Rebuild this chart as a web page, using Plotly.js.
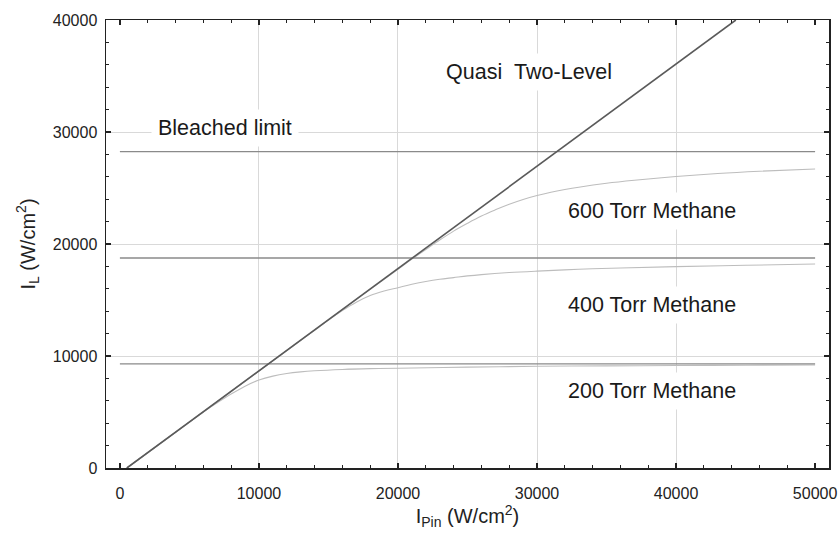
<!DOCTYPE html>
<html>
<head>
<meta charset="utf-8">
<script src="https://cdn.plot.ly/plotly-3.0.1.min.js"></script>
<style>html,body{margin:0;padding:0;background:#fff}#chart{width:839px;height:538px}</style>
</head>
<body>
<div id="chart"></div>
<script>
// Quasi two-level (unsaturated) line
const quasiX = [500, 44300];
const quasiY = [0, 40000];

// Bleached limits for each pressure
const bleachX = [0, 50000];
const bleach600 = 28250;
const bleach400 = 18750;
const bleach200 = 9300;

// 200 Torr methane curve
const t200X = [500, 3000, 5000, 6000, 7000, 8000, 9000, 10000, 11000, 12000, 13000, 14000, 16000, 18000, 20000, 25000, 30000, 35000, 40000, 45000, 50000];
const t200Y = [0, 2280, 4100, 5000, 5820, 6600, 7300, 7850, 8200, 8430, 8580, 8680, 8800, 8870, 8910, 9010, 9080, 9120, 9150, 9180, 9200];

// 400 Torr methane curve
const t400X = [500, 5000, 10000, 13000, 14000, 15000, 16000, 17000, 18000, 19000, 20000, 21000, 22000, 23000, 24000, 25000, 26000, 28000, 30000, 33000, 36000, 40000, 45000, 50000];
const t400Y = [0, 4100, 8660, 11400, 12300, 13200, 14050, 14800, 15400, 15800, 16100, 16400, 16650, 16850, 17000, 17150, 17270, 17450, 17580, 17740, 17860, 17980, 18100, 18210];

// 600 Torr methane curve
const t600X = [500, 5000, 10000, 15000, 18000, 20000, 21000, 22000, 23000, 24000, 25000, 26000, 27000, 28000, 29000, 30000, 31000, 32000, 33000, 35000, 37000, 40000, 43000, 46000, 50000];
const t600Y = [0, 4100, 8660, 13230, 15950, 17750, 18650, 19500, 20350, 21150, 21850, 22500, 23050, 23550, 23980, 24330, 24620, 24860, 25070, 25420, 25690, 26030, 26300, 26500, 26700];

// Axis ticks and grid
const xTicks = [0, 10000, 20000, 30000, 40000, 50000];
const xTickText = ['0', '10000', '20000', '30000', '40000', '50000'];
const yTicks = [0, 10000, 20000, 30000, 40000];
const yTickText = ['0', '10000', '20000', '30000', '40000'];
const gridX = [10000, 20000, 30000, 40000];
const gridY = [10000, 20000, 30000];

// Labels
const labelText = ['Quasi&nbsp;&nbsp;Two-Level', 'Bleached limit', '600 Torr Methane', '400 Torr Methane', '200 Torr Methane'];
const labelX = [29400, 7550, 38300, 38300, 38300];
const labelY = [35400, 30350, 22950, 14550, 6850];

const FONT = 'Liberation Sans, Arial, Helvetica, sans-serif';
const curveStyle = {color: '#bdbdbd', width: 1.1, shape: 'spline', smoothing: 1};
const limitStyle = {color: '#8a8a8a', width: 1.3};

const traces = [
  {x: gridX, y: gridX.map(() => null), xaxis: 'x2', yaxis: 'y2', mode: 'lines', hoverinfo: 'skip', showlegend: false},
  {x: t600X, y: t600Y, mode: 'lines', line: curveStyle, name: '600 Torr'},
  {x: t400X, y: t400Y, mode: 'lines', line: curveStyle, name: '400 Torr'},
  {x: t200X, y: t200Y, mode: 'lines', line: curveStyle, name: '200 Torr'},
  {x: bleachX, y: bleachX.map(() => bleach600), mode: 'lines', line: limitStyle, name: 'Bleached 600'},
  {x: bleachX, y: bleachX.map(() => bleach400), mode: 'lines', line: limitStyle, name: 'Bleached 400'},
  {x: bleachX, y: bleachX.map(() => bleach200), mode: 'lines', line: limitStyle, name: 'Bleached 200'},
  {x: quasiX, y: quasiY, mode: 'lines', line: {color: '#5a5a5a', width: 1.6}, name: 'Quasi Two-Level'}
];

const axisCommon = {
  showline: true, linecolor: '#222', linewidth: 1.5, mirror: 'allticks',
  ticks: 'inside', ticklen: 5, tickwidth: 1.2, tickcolor: '#222',
  showgrid: false, zeroline: false,
  tickfont: {family: FONT, size: 16, color: '#222'}
};

const layout = {
  width: 839, height: 538,
  margin: {l: 106, r: 10, t: 20, b: 70},
  paper_bgcolor: '#fff', plot_bgcolor: '#fff',
  showlegend: false,
  font: {family: FONT, color: '#222'},
  xaxis: Object.assign({}, axisCommon, {
    range: [-1000, 51000], tickmode: 'array', tickvals: xTicks, ticktext: xTickText,
    ticklabelstandoff: 10,
    minor: {dtick: 2000, tick0: 0, ticks: 'inside', ticklen: 3, tickwidth: 1.1, tickcolor: '#222'},
    title: {text: 'I<sub>Pin</sub> (W/cm<sup>2</sup>)', font: {family: FONT, size: 20, color: '#222'}, standoff: 8}
  }),
  yaxis: Object.assign({}, axisCommon, {
    range: [0, 40000], tickmode: 'array', tickvals: yTicks, ticktext: yTickText,
    ticklabelstandoff: 4,
    minor: {dtick: 2000, tick0: 0, ticks: 'inside', ticklen: 3, tickwidth: 1.1, tickcolor: '#222'},
    title: {text: 'I<sub>L</sub> (W/cm<sup>2</sup>)', font: {family: FONT, size: 20, color: '#222'}, standoff: 12}
  }),
  xaxis2: {overlaying: 'x', matches: 'x', range: [-1000, 51000], tickmode: 'array', tickvals: gridX,
    showgrid: true, gridcolor: '#d9d9d9', gridwidth: 1, showticklabels: false, ticks: '', showline: false, zeroline: false, layer: 'below traces'},
  yaxis2: {overlaying: 'y', range: [0, 40000], tickmode: 'array', tickvals: gridY,
    showgrid: true, gridcolor: '#d9d9d9', gridwidth: 1, showticklabels: false, ticks: '', showline: false, zeroline: false},
  annotations: labelText.map((t, i) => ({
    x: labelX[i], y: labelY[i], xref: 'x', yref: 'y', text: t, showarrow: false,
    font: {family: FONT, size: 21.5, color: '#1a1a1a'},
    bgcolor: '#fff', borderpad: 6, xanchor: 'center', yanchor: 'middle'
  }))
};

Plotly.newPlot('chart', traces, layout, {staticPlot: true, displayModeBar: false});
</script>
</body>
</html>
